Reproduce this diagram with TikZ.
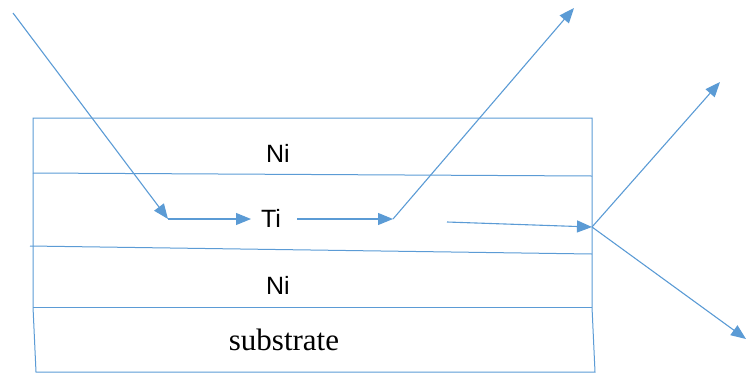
\documentclass[tikz,border=0pt]{standalone}
\usepackage{fontspec}
\setmainfont{Liberation Serif}
\newfontfamily\labsans{Liberation Sans}
\usetikzlibrary{arrows.meta}
\definecolor{lineblue}{RGB}{91,155,213}
\tikzset{
  layer/.style={draw=lineblue, line width=1pt},
  ray/.style={draw=lineblue, line width=1.1pt, -{Triangle[length=15pt,width=12pt]}},
  plainray/.style={draw=lineblue, line width=1.1pt},
  metal/.style={font=\labsans\fontsize{25}{30}\selectfont, inner sep=0pt, anchor=base},
  subs/.style={font=\fontsize{31}{36}\selectfont, inner sep=0pt, anchor=base}
}
\begin{document}
\begin{tikzpicture}[x=1pt,y=-1pt]
\useasboundingbox (0,0) rectangle (747,373);
% box corners
\coordinate (tl) at (33,118);
\coordinate (tr) at (592,118);
\coordinate (l2) at (33,173);
\coordinate (r2) at (592,176);
\coordinate (l3) at (30,246);
\coordinate (r3) at (592,254);
\coordinate (l4) at (33,307);
\coordinate (r4) at (592,307);
\coordinate (bl) at (36,372);
\coordinate (br) at (595,372);
\draw[layer] (bl) -- (l4) -- (tl) -- (tr) -- (r4) -- (br) -- cycle;
\draw[layer] (l2) -- (r2);
\draw[layer] (l3) -- (r3);
\draw[layer] (l4) -- (r4);
% labels
\node[metal] (ni1) at (278,162) {Ni};
\node[metal] (ti) at (271,227) {Ti};
\node[metal] (ni2) at (278,294) {Ni};
\node[subs] (sub) at (284,350) {substrate};
% ray points
\coordinate (src) at (13,13);
\coordinate (p1) at (168,219);
\coordinate (p2) at (251,219);
\coordinate (p3) at (297,219);
\coordinate (p4) at (393,219);
\coordinate (out1) at (574,8);
\coordinate (q1) at (447,222);
\coordinate (q2) at (592,227);
\coordinate (out2) at (720,82);
\coordinate (out3) at (746,339);
\draw[ray] (src) -- (p1);
\draw[ray] (p1) -- (p2);
\draw[ray] (p3) -- (p4);
\draw[ray] (p4) -- (out1);
\draw[ray] (q1) -- (q2);
\draw[ray] (q2) -- (out2);
\draw[ray] (q2) -- (out3);
\end{tikzpicture}
\end{document}
